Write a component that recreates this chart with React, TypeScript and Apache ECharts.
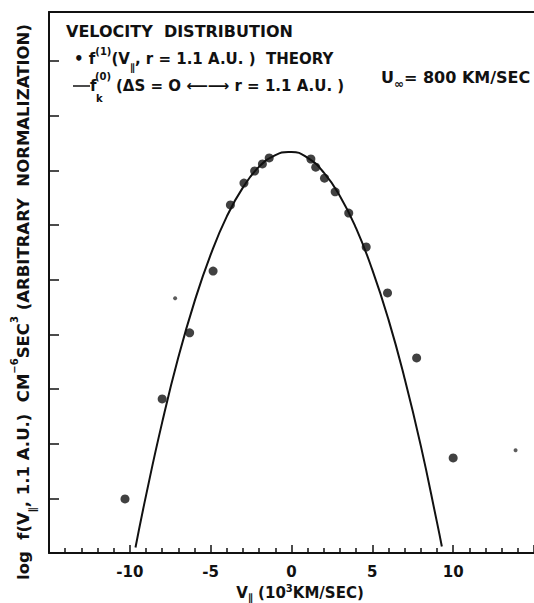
import React, { useEffect, useRef } from "react";
import * as echarts from "echarts";

// Measured points f^(1)(V||, r = 1.1 AU) theory  [V (10^3 km/s), log f]
const pointV = [-10.3, -8.0, -6.3, -4.85, -3.78, -2.94, -2.28, -1.8, -1.38, 1.2, 1.5, 2.04, 2.7, 3.54, 4.62, 5.94, 7.74, 10.0];
const pointF = [0.99, 2.82, 4.03, 5.16, 6.37, 6.77, 6.99, 7.12, 7.23, 7.21, 7.06, 6.86, 6.61, 6.22, 5.6, 4.76, 3.57, 1.74];

// Curve f_k^(0)
const curveV = [-9.65, -9, -8, -7, -6, -5, -4, -3, -2, -1, -0.2, 0, 1, 2, 3, 4, 5, 6, 7, 8, 9, 9.3];
const curveF = [0.1, 1.05, 2.39, 3.58, 4.6, 5.46, 6.16, 6.69, 7.07, 7.28, 7.34, 7.34, 7.23, 6.96, 6.53, 5.94, 5.18, 4.27, 3.19, 1.96, 0.56, 0.12];

// Scan specks inside the frame
const speckV = [-7.2, 13.86];
const speckF = [4.66, 1.88];

const xTickLabels = ["-10", "-5", "0", "5", "10"];

const FF = '"DejaVu Sans", sans-serif';
const INK = "#111";

const mk = (size: number, extra: any = {}) => ({
  fontSize: size,
  fontWeight: "bold",
  fontFamily: FF,
  fill: INK,
  ...extra,
});

export default function App() {
  const ref = useRef<HTMLDivElement>(null);
  useEffect(() => {
    if (!ref.current) return;
    const chart = echarts.init(ref.current, null, { renderer: "svg" });
    const rich = {
      m: mk(15, { lineHeight: 26 }),
      big: mk(16.5, { lineHeight: 28 }),
      sup: mk(10, { verticalAlign: "top", lineHeight: 11 }),
      sub: mk(10, { verticalAlign: "bottom", lineHeight: 11 }),
    };
    const richU = {
      m: mk(16, { lineHeight: 26 }),
      sub: mk(12, { verticalAlign: "bottom", lineHeight: 12 }),
    };
    const richX = {
      m: mk(15, { lineHeight: 19 }),
      sup: mk(10, { verticalAlign: "top", lineHeight: 9 }),
      sub: mk(10, { verticalAlign: "bottom", lineHeight: 9 }),
    };
    chart.setOption({
      animation: false,
      backgroundColor: "#fff",
      grid: { left: 49, top: 12, width: 500, height: 541 },
      xAxis: [
        {
          type: "value",
          min: -15,
          max: 15,
          interval: 5,
          axisLine: { show: true, onZero: false, lineStyle: { color: INK, width: 2 } },
          axisTick: { show: true, inside: true, length: 8, lineStyle: { color: INK, width: 1.5 } },
          minorTick: { show: true, splitNumber: 5, length: 5, lineStyle: { color: INK, width: 1.5 } },
          splitLine: { show: false },
          minorSplitLine: { show: false },
          axisLabel: {
            show: true,
            margin: 11,
            fontSize: 15,
            fontWeight: "bold",
            fontFamily: FF,
            color: INK,
            showMinLabel: false,
            showMaxLabel: false,
            formatter: (v: number) => {
              const s = String(v);
              return xTickLabels.includes(s) ? s : "";
            },
          },
        },
        {
          type: "value",
          position: "top",
          min: -15,
          max: 15,
          axisLine: { show: true, onZero: false, lineStyle: { color: INK, width: 2 } },
          axisTick: { show: false },
          axisLabel: { show: false },
          splitLine: { show: false },
        },
      ],
      yAxis: {
        type: "value",
        min: 0,
        max: 9.9,
        interval: 1,
        axisLine: { show: true, onZero: false, lineStyle: { color: INK, width: 2 } },
        axisTick: { show: true, inside: true, length: 10, lineStyle: { color: INK, width: 1.5 } },
        axisLabel: { show: false },
        splitLine: { show: false },
      },
      series: [
        {
          type: "line",
          data: curveV.map((v, i) => [v, curveF[i]]),
          smooth: true,
          showSymbol: false,
          symbol: "none",
          lineStyle: { color: INK, width: 2 },
          z: 3,
        },
        {
          type: "scatter",
          data: pointV.map((v, i) => [v, pointF[i]]),
          symbol: "circle",
          symbolSize: 9,
          itemStyle: { color: INK },
          z: 4,
        },
        {
          type: "scatter",
          data: speckV.map((v, i) => [v, speckF[i]]),
          symbol: "circle",
          symbolSize: 4,
          itemStyle: { color: "#333" },
          z: 2,
        },
      ],
      graphic: [
        {
          type: "text",
          x: 66,
          y: 31,
          style: { text: "VELOCITY  DISTRIBUTION", ...mk(16), verticalAlign: "middle", align: "left" },
        },
        {
          type: "text",
          x: 74,
          y: 59,
          style: {
            text: "{m|• f}{sup|(1)}{m|(V}{sub|∥}{m|, r = 1.1 A.U. )  THEORY}",
            rich,
            verticalAlign: "middle",
            align: "left",
          },
        },
        {
          type: "line",
          shape: { x1: 73, y1: 86, x2: 90, y2: 86 },
          style: { stroke: INK, lineWidth: 1.5 },
        },
        {
          type: "text",
          x: 90,
          y: 86,
          style: { text: "f", ...mk(15), verticalAlign: "middle", align: "left" },
        },
        {
          type: "text",
          x: 95,
          y: 76,
          style: { text: "(0)", ...mk(10), verticalAlign: "middle", align: "left" },
        },
        {
          type: "text",
          x: 96,
          y: 98,
          style: { text: "k", ...mk(10), verticalAlign: "middle", align: "left" },
        },
        {
          type: "text",
          x: 116,
          y: 86,
          style: { text: "(ΔS = O ⟵⟶ r = 1.1 A.U. )", ...mk(15), verticalAlign: "middle", align: "left" },
        },
        {
          type: "text",
          x: 381,
          y: 77,
          style: {
            text: "{m|U}{sub|∞}{m|= 800 KM/SEC}",
            rich: richU,
            verticalAlign: "middle",
            align: "left",
          },
        },
        {
          type: "text",
          x: 300,
          y: 593,
          style: {
            text: "{m|V}{sub|∥}{m| (10}{sup|3}{m|KM/SEC)}",
            rich: richX,
            verticalAlign: "middle",
            align: "center",
          },
        },
        {
          type: "text",
          x: 23,
          y: 302,
          rotation: Math.PI / 2,
          style: {
            text: "{big|log  f(V}{sub|∥}{big|, 1.1 A.U.)  CM}{sup|−6}{big|SEC}{sup|3}{big| (ARBITRARY  NORMALIZATION)}",
            rich,
            verticalAlign: "middle",
            align: "center",
          },
        },
      ],
    });
    return () => chart.dispose();
  }, []);
  return (
    <div
      ref={ref}
      style={{ position: "fixed", left: 0, top: 0, width: 534, height: 603, background: "#fff" }}
    />
  );
}
